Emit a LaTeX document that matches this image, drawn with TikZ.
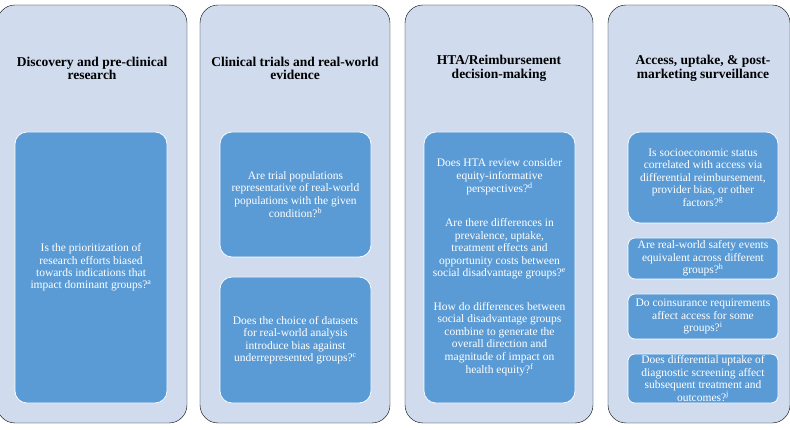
\documentclass[tikz,border=0pt]{standalone}
\usepackage{fontspec}
\setmainfont{Liberation Serif}
\definecolor{fondofase}{RGB}{208,220,238}
\definecolor{bludomanda}{RGB}{91,155,213}
\tikzset{
  fase/.style={fill=fondofase,rounded corners=18pt},
  domanda/.style={fill=bludomanda,draw=white,line width=0.7pt,rounded corners=#1},
  domanda/.default=12pt,
  testo/.style={text=white,align=center,inner sep=0pt,font=\fontsize{11.5}{12.4}\selectfont},
  titolo/.style={align=center,inner sep=0pt,font=\fontsize{13.5}{13.5}\selectfont\bfseries}
}
\newcommand{\nota}[1]{\textsuperscript{#1}}
\begin{document}
\begin{tikzpicture}[x=1pt,y=-1pt]
        \useasboundingbox(0,0)rectangle(790,430);
        %fase 1: scoperta
        \draw[fase](-3,5)rectangle(187,423);
        \node[titolo](t1) at (92,68.5){Discovery and pre-clinical\\research};
        \draw[domanda](15,132)rectangle(167,403)node[pos=.5,testo](q1){Is the prioritization of\\research efforts biased\\towards indications that\\impact dominant groups?\nota{a}};
        
        %fase 2: trial ed evidenze
        \draw[fase](200,5)rectangle(390,423);
        \node[titolo](t2) at (295,68.5){Clinical trials and real-world\\evidence};
        \draw[domanda](220,132)rectangle(371,257)node[pos=.5,testo](q2){Are trial populations\\representative of real-world\\populations with the given\\condition?\nota{b}};
        \draw[domanda](220,277)rectangle(371,403)node[pos=.5,testo](q3){Does the choice of datasets\\for real-world analysis\\introduce bias against\\underrepresented groups?\nota{c}};
        
        %fase 3: HTA
        \draw[fase](405,5)rectangle(593,423);
        \node[titolo](t3) at (499,68.5){HTA/Reimbursement\\decision-making};
        \draw[domanda](424,132)rectangle(575,403)node[pos=.5,testo](q4){Does HTA review consider\\equity-informative\\perspectives?\nota{d}\\[21.6pt]
            Are there differences in\\prevalence, uptake,\\treatment effects and\\opportunity costs between\\social disadvantage groups?\nota{e}\\[21.6pt]
            How do differences between\\social disadvantage groups\\combine to generate the\\overall direction and\\magnitude of impact on\\health equity?\nota{f}};
        
        %fase 4: accesso e sorveglianza
        \draw[fase](608,5)rectangle(790,423);
        \node[titolo](t4) at (703,68.5){Access, uptake, \& post-\\marketing surveillance};
        \draw[domanda](628,132)rectangle(778,223)node[pos=.5,testo](q5){Is socioeconomic status\\correlated with access via\\differential reimbursement,\\provider bias, or other\\factors?\nota{g}};
        \draw[domanda=7pt](628,238)rectangle(778,279)node[pos=.5,testo](q6){Are real-world safety events\\equivalent across different\\groups?\nota{h}};
        \draw[domanda=7pt](628,294)rectangle(778,339)node[pos=.5,testo](q7){Do coinsurance requirements\\affect access for some\\groups?\nota{i}};
        \draw[domanda=7pt](628,354)rectangle(778,403)node[pos=.5,testo](q8){Does differential uptake of\\diagnostic screening affect\\subsequent treatment and\\outcomes?\nota{j}};
        
    \end{tikzpicture}
\end{document}
